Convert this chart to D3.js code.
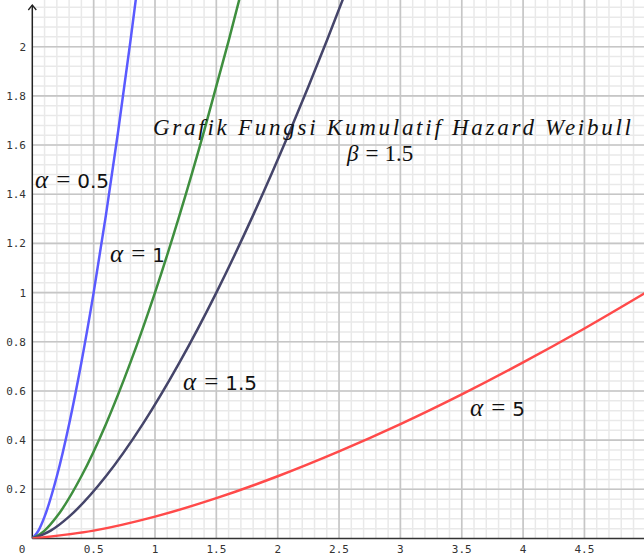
<!DOCTYPE html>
<html>
<head>
<meta charset="utf-8">
<script src="https://cdn.jsdelivr.net/npm/d3@7"></script>
<style>
  body { margin: 0; background: #fff; }
  svg { display: block; }
</style>
</head>
<body>
<script>
// values (x, cumulative hazard)
var xBlue  = [0, 0.05, 0.1, 0.2, 0.3, 0.4, 0.5, 0.6, 0.7, 0.8, 0.85];
var yBlue  = [0, 0.032, 0.089, 0.253, 0.465, 0.716, 1.0, 1.315, 1.657, 2.024, 2.217];
var xGreen = [0, 0.1, 0.2, 0.4, 0.6, 0.8, 1.0, 1.2, 1.4, 1.6, 1.7];
var yGreen = [0, 0.032, 0.089, 0.253, 0.465, 0.716, 1.0, 1.315, 1.657, 2.024, 2.217];
var xNavy  = [0, 0.15, 0.3, 0.6, 0.9, 1.2, 1.5, 1.8, 2.1, 2.4, 2.55];
var yNavy  = [0, 0.032, 0.089, 0.253, 0.465, 0.716, 1.0, 1.315, 1.657, 2.024, 2.217];
var xRed   = [0, 0.5, 1, 1.5, 2, 2.5, 3, 3.5, 4, 4.5, 5];
var yRed   = [0, 0.032, 0.089, 0.164, 0.253, 0.354, 0.465, 0.586, 0.716, 0.854, 1.0];

var xTicks = [0.5, 1, 1.5, 2, 2.5, 3, 3.5, 4, 4.5];
var yTicks = [0.2, 0.4, 0.6, 0.8, 1, 1.2, 1.4, 1.6, 1.8, 2];

var width = 644, height = 557;
var x0 = 32.3, y0 = 538.5;

var xScale = d3.scaleLinear().domain([0, 5]).range([x0, x0 + 5 * 122.7]);
var yScale = d3.scaleLinear().domain([0, 2]).range([y0, y0 - 2 * 245.9]);

var svg = d3.select("body").append("svg")
    .attr("width", width)
    .attr("height", height);

var xMax = xScale.invert(width), yMax = yScale.invert(0);

// minor grid
var minorX = d3.range(0.1, xMax, 0.1);
var minorY = d3.range(0.04, yMax, 0.04);
svg.append("g").selectAll("line").data(minorX).enter().append("line")
    .attr("x1", function(d){ return xScale(d); }).attr("x2", function(d){ return xScale(d); })
    .attr("y1", 0).attr("y2", y0)
    .attr("stroke", "#e9e9e9").attr("stroke-width", 1.5);
svg.append("g").selectAll("line").data(minorY).enter().append("line")
    .attr("x1", x0).attr("x2", width)
    .attr("y1", function(d){ return yScale(d); }).attr("y2", function(d){ return yScale(d); })
    .attr("stroke", "#e9e9e9").attr("stroke-width", 1.5);

// major grid
svg.append("g").selectAll("line").data(xTicks).enter().append("line")
    .attr("x1", function(d){ return xScale(d); }).attr("x2", function(d){ return xScale(d); })
    .attr("y1", 0).attr("y2", y0)
    .attr("stroke", "#c6c6c6").attr("stroke-width", 1.6);
svg.append("g").selectAll("line").data(yTicks).enter().append("line")
    .attr("x1", x0).attr("x2", width)
    .attr("y1", function(d){ return yScale(d); }).attr("y2", function(d){ return yScale(d); })
    .attr("stroke", "#c6c6c6").attr("stroke-width", 1.6);

// axes lines
svg.append("line").attr("x1", x0).attr("x2", width).attr("y1", y0).attr("y2", y0)
    .attr("stroke", "#333").attr("stroke-width", 1.5);
svg.append("line").attr("x1", x0).attr("x2", x0).attr("y1", y0).attr("y2", 5)
    .attr("stroke", "#222").attr("stroke-width", 1.5);
svg.append("path").attr("d", "M" + (x0 - 4) + ",10 L" + x0 + ",5 L" + (x0 + 4) + ",10")
    .attr("fill", "none").attr("stroke", "#222").attr("stroke-width", 1.3);

// tick labels
var tickFont = "'DejaVu Sans Mono', monospace";
svg.append("g").selectAll("text").data(xTicks).enter().append("text")
    .attr("x", function(d){ return xScale(d); })
    .attr("y", 553)
    .attr("text-anchor", "middle")
    .attr("font-family", tickFont).attr("font-size", 11).attr("fill", "#333")
    .text(function(d){ return d; });
svg.append("g").selectAll("text").data(yTicks).enter().append("text")
    .attr("x", 26)
    .attr("y", function(d){ return yScale(d) + 4; })
    .attr("text-anchor", "end")
    .attr("font-family", tickFont).attr("font-size", 11).attr("fill", "#333")
    .text(function(d){ return d; });
svg.append("text").attr("x", 22).attr("y", 553).attr("text-anchor", "middle")
    .attr("font-family", tickFont).attr("font-size", 11).attr("fill", "#333").text("0");

// curves
svg.append("clipPath").attr("id", "plot").append("rect")
    .attr("x", x0).attr("y", 0).attr("width", width - x0).attr("height", y0);

var series = [
    {xs: xBlue,  ys: yBlue,  color: "#5a5aff"},
    {xs: xGreen, ys: yGreen, color: "#3f8f3f"},
    {xs: xNavy,  ys: yNavy,  color: "#45456a"},
    {xs: xRed,   ys: yRed,   color: "#ff4a4a"}
];
var line = d3.line()
    .x(function(d){ return xScale(d[0]); })
    .y(function(d){ return yScale(d[1]); })
    .curve(d3.curveMonotoneX);

svg.append("g").attr("clip-path", "url(#plot)")
    .selectAll("path").data(series).enter().append("path")
    .attr("d", function(s){ return line(d3.zip(s.xs, s.ys)); })
    .attr("fill", "none")
    .attr("stroke", function(d){ return d.color; })
    .attr("stroke-width", 2.5);

// curve labels
var serifF = "'Liberation Serif', serif";
var sans = "'DejaVu Sans', sans-serif";
var labels = [
    {t: "0.5", x: 35, y: 188},
    {t: "1", x: 110, y: 262},
    {t: "1.5", x: 183, y: 390},
    {t: "5", x: 470, y: 416}
];
labels.forEach(function(l) {
    var t = svg.append("text").attr("x", l.x).attr("y", l.y)
        .attr("font-size", 20).attr("fill", "#111");
    t.append("tspan").attr("font-family", serifF)
        .attr("font-style", "italic").attr("font-size", 25).text("\u03b1");
    t.append("tspan").attr("font-family", serifF)
        .attr("font-size", 25).attr("dx", 8).text("=");
    t.append("tspan").attr("font-family", sans).attr("dx", 7).text(l.t);
});

// title
svg.append("text").attr("x", 153).attr("y", 135)
    .attr("font-family", serifF).attr("font-style", "italic")
    .attr("font-size", 23).attr("fill", "#111")
    .attr("textLength", 478).attr("lengthAdjust", "spacing")
    .text("Grafik Fungsi Kumulatif Hazard Weibull");
var b = svg.append("text").attr("x", 347).attr("y", 161)
    .attr("font-family", serifF)
    .attr("font-size", 23).attr("fill", "#111");
b.append("tspan").attr("font-style", "italic").text("\u03b2");
b.append("tspan").attr("dx", 7).text("=");
b.append("tspan").attr("dx", 6).text("1.5");
</script>
</body>
</html>
